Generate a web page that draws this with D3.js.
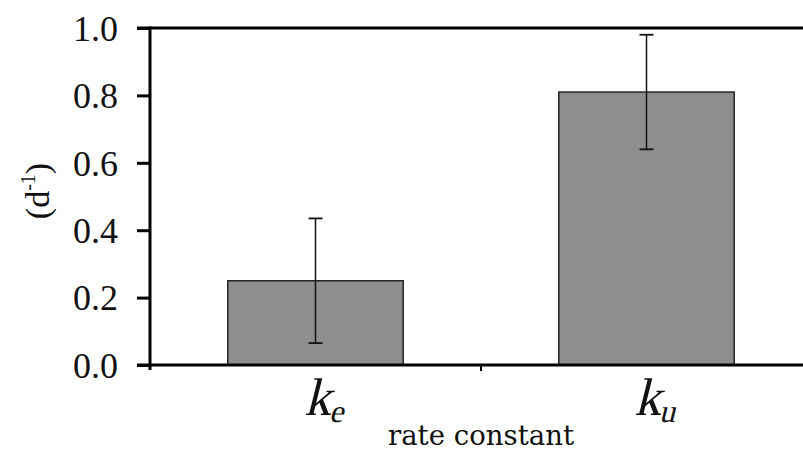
<!DOCTYPE html>
<html>
<head>
<meta charset="utf-8">
<script src="https://cdn.jsdelivr.net/npm/d3@7"></script>
<style>
  html, body { margin: 0; padding: 0; background: #fff; }
  svg { display: block; }
  text { font-family: "Liberation Serif"; fill: #111; }
</style>
</head>
<body>
<svg id="chart" width="803" height="458"></svg>
<script>
// ---- data ----
const categories = ["e", "u"];          // subscripts of k
const values = [0.25, 0.81];
const errors = [0.185, 0.17];
const yTicks = [0.0, 0.2, 0.4, 0.6, 0.8, 1.0];
const xTitle = "rate constant";

const FONT = '"Liberation Serif"';

// ---- layout ----
const svg = d3.select("#chart");
const x0 = 150, x1 = 812, yTop = 28, yBot = 365;

const x = d3.scaleBand().domain(categories).range([x0, x1])
  .paddingInner(0.47).paddingOuter(0.235);
const y = d3.scaleLinear().domain([0, 1]).range([yBot, yTop]);

// bars
svg.selectAll("rect.bar").data(categories).enter().append("rect")
  .attr("class", "bar")
  .attr("x", d => x(d))
  .attr("width", x.bandwidth())
  .attr("y", (d, i) => y(values[i]))
  .attr("height", (d, i) => y(0) - y(values[i]))
  .attr("fill", "#8e8e8e")
  .attr("stroke", "#1a1a1a")
  .attr("stroke-width", 1.4);

// error bars
const eb = svg.selectAll("g.err").data(categories).enter().append("g")
  .attr("class", "err")
  .attr("transform", d => `translate(${x(d) + x.bandwidth() / 2},0)`);
eb.append("line")
  .attr("y1", (d, i) => y(values[i] + errors[i]))
  .attr("y2", (d, i) => y(values[i] - errors[i]))
  .attr("stroke", "#111").attr("stroke-width", 1.5);
[1, -1].forEach(s => {
  eb.append("line")
    .attr("x1", -7).attr("x2", 7)
    .attr("y1", (d, i) => y(values[i] + s * errors[i]))
    .attr("y2", (d, i) => y(values[i] + s * errors[i]))
    .attr("stroke", "#111").attr("stroke-width", 1.8);
});

// y axis
const yAxis = d3.axisLeft(y).tickValues(yTicks).tickFormat(d3.format(".1f"))
  .tickSize(13).tickPadding(19);
const gy = svg.append("g").attr("transform", `translate(${x0},0)`).call(yAxis)
  .attr("font-family", FONT);
gy.select(".domain").remove();
gy.selectAll(".tick line").attr("stroke", "#000").attr("stroke-width", 3);
gy.selectAll(".tick text").style("font-family", FONT)
  .style("font-size", "36px").attr("fill", "#111").attr("dy", "0.34em");
svg.append("line").attr("x1", x0).attr("x2", x0).attr("y1", yTop - 1.5).attr("y2", yBot + 5)
  .attr("stroke", "#000").attr("stroke-width", 3);

// top frame line
svg.append("line").attr("x1", x0 - 13).attr("x2", x1).attr("y1", yTop).attr("y2", yTop)
  .attr("stroke", "#000").attr("stroke-width", 3);
// x axis line
svg.append("line").attr("x1", x0 - 13).attr("x2", x1).attr("y1", yBot).attr("y2", yBot)
  .attr("stroke", "#000").attr("stroke-width", 3);
// category boundary tick
const boundary = x(categories[1]) - x.step() * x.paddingInner() / 2;
svg.append("line").attr("x1", boundary).attr("x2", boundary).attr("y1", yBot).attr("y2", yBot + 6)
  .attr("stroke", "#000").attr("stroke-width", 2);

// category labels k_e, k_u (slanted serif)
svg.selectAll("g.cat").data(categories).enter().append("g")
  .attr("class", "cat")
  .attr("transform", d => `translate(${x(d) + x.bandwidth() / 2 + 9},415) skewX(-14)`)
  .append("text")
  .attr("text-anchor", "middle")
  .style("font-family", FONT)
  .style("font-size", "53px")
  .each(function (d) {
    const t = d3.select(this);
    t.append("tspan").text("k");
    t.append("tspan").text(d).style("font-size", "32px").attr("dy", 7);
  });

// x title
svg.append("text").attr("x", boundary).attr("y", 445)
  .attr("text-anchor", "middle")
  .style("font-family", '"DejaVu Serif"')
  .style("font-size", "27px")
  .attr("textLength", 186).attr("lengthAdjust", "spacingAndGlyphs")
  .text(xTitle);

// y title (d^-1)
const yt = svg.append("text")
  .attr("transform", "translate(49,191) rotate(-90)")
  .attr("text-anchor", "middle")
  .style("font-family", FONT)
  .style("font-size", "34px");
yt.append("tspan").text("(d");
yt.append("tspan").text("-1").style("font-size", "20px").attr("dy", -14);
yt.append("tspan").text(")").attr("dy", 14);
</script>
</body>
</html>
